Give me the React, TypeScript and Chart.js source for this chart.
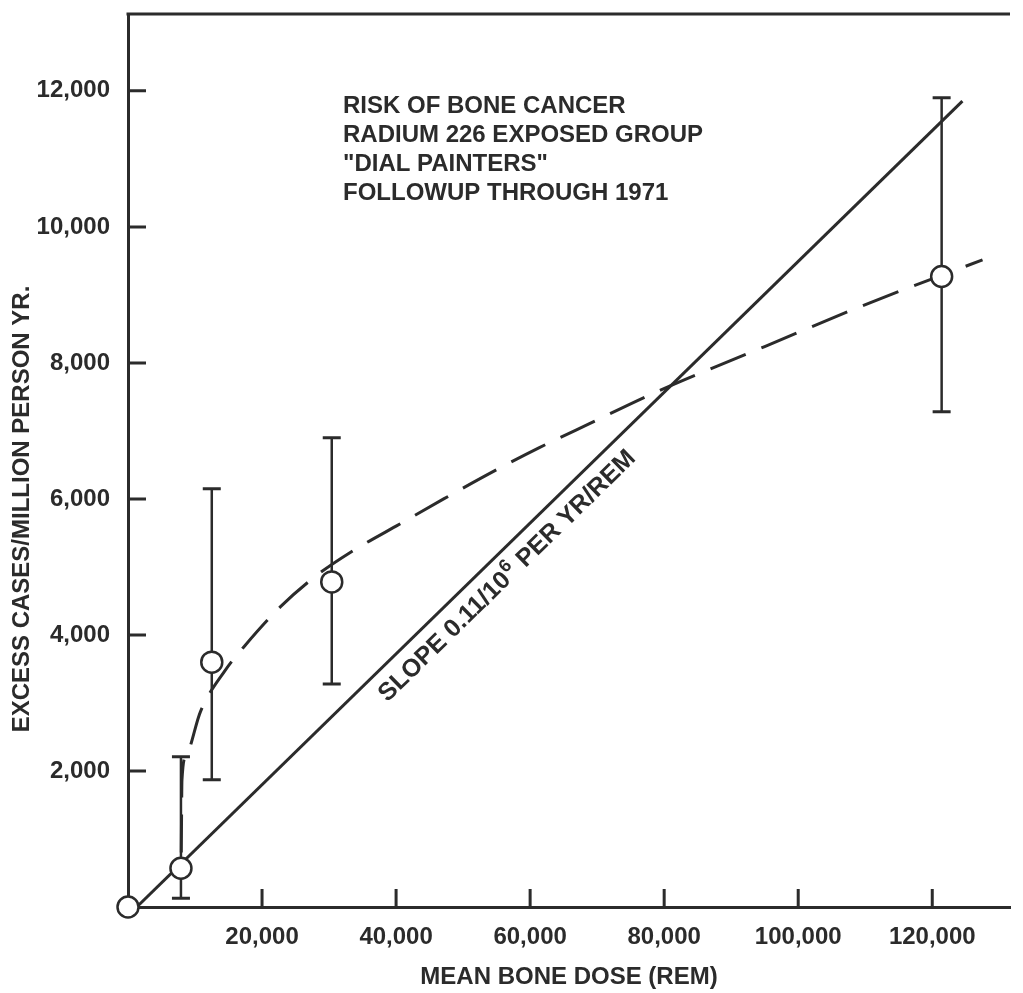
import React, { useEffect, useRef } from "react";
import { Chart, registerables } from "chart.js";

Chart.register(...registerables);

// ---- data ----
const doseX = [0, 7900, 12500, 30400, 121400];
const excessY = [0, 570, 3600, 4780, 9270];
const errLow = [null, 130, 1870, 3280, 7280];
const errHigh = [null, 2210, 6150, 6900, 11900];

const slopeLineX = [1300, 124500];
const slopeLineY = [0, 11850];

const curveX = [7950, 8050, 8700, 10800, 14500, 17500, 22800, 28200, 33100, 40000, 47100, 55200, 61300, 68700, 79000, 95000, 110600, 127500];
const curveY = [800, 1870, 2230, 2870, 3480, 3850, 4420, 4880, 5210, 5600, 6000, 6440, 6750, 7100, 7580, 8240, 8880, 9515];

const xTickValues = [20000, 40000, 60000, 80000, 100000, 120000];
const yTickValues = [2000, 4000, 6000, 8000, 10000, 12000];

const noteLines = [
  "RISK OF BONE CANCER",
  "RADIUM 226 EXPOSED GROUP",
  "\"DIAL PAINTERS\"",
  "FOLLOWUP THROUGH 1971",
];
const slopeTextA = "SLOPE 0.11/10";
const slopeTextSup = "6";
const slopeTextB = " PER YR/REM";
const slopeTextAtX = 35700;

const xTitle = "MEAN BONE DOSE (REM)";
const yTitle = "EXCESS CASES/MILLION PERSON YR.";

const INK = "#2b2b2b";
const FONT = "'Liberation Sans', Arial, sans-serif";

const fmt = (v: number) => v.toLocaleString("en-US");

const overlayPlugin = {
  id: "overlay",
  beforeDatasetsDraw(chart: any) {
    const { ctx } = chart;
    const xs = chart.scales.x;
    const ys = chart.scales.y;
    ctx.save();
    ctx.strokeStyle = INK;
    ctx.lineCap = "butt";
    for (let i = 0; i < doseX.length; i++) {
      const lo = errLow[i];
      const hi = errHigh[i];
      if (lo == null || hi == null) continue;
      const px = xs.getPixelForValue(doseX[i]);
      const pl = ys.getPixelForValue(lo);
      const ph = ys.getPixelForValue(hi);
      ctx.lineWidth = 2.5;
      ctx.beginPath();
      ctx.moveTo(px, pl);
      ctx.lineTo(px, ph);
      ctx.stroke();
      ctx.lineWidth = 3;
      ctx.beginPath();
      ctx.moveTo(px - 9, pl);
      ctx.lineTo(px + 9, pl);
      ctx.moveTo(px - 9, ph);
      ctx.lineTo(px + 9, ph);
      ctx.stroke();
    }
    ctx.restore();
  },
  afterDraw(chart: any) {
    const { ctx, chartArea } = chart;
    const xs = chart.scales.x;
    const ys = chart.scales.y;
    ctx.save();
    ctx.strokeStyle = INK;
    ctx.fillStyle = INK;
    // top border
    ctx.lineWidth = 3;
    ctx.beginPath();
    ctx.moveTo(chartArea.left - 1.5, chartArea.top);
    ctx.lineTo(chartArea.right, chartArea.top);
    ctx.stroke();
    // inward tick marks
    ctx.lineWidth = 3;
    ctx.beginPath();
    for (const v of yTickValues) {
      const py = ys.getPixelForValue(v);
      ctx.moveTo(chartArea.left, py);
      ctx.lineTo(chartArea.left + 18, py);
    }
    for (const v of xTickValues) {
      const px = xs.getPixelForValue(v);
      ctx.moveTo(px, chartArea.bottom);
      ctx.lineTo(px, chartArea.bottom - 18);
    }
    ctx.stroke();

    // annotation block
    ctx.font = `bold 24px ${FONT}`;
    ctx.textAlign = "left";
    ctx.textBaseline = "alphabetic";
    noteLines.forEach((t, i) => {
      ctx.fillText(t, 343, 113 + i * 29);
    });

    // slope label along solid line
    const x1 = xs.getPixelForValue(slopeLineX[0]);
    const y1 = ys.getPixelForValue(slopeLineY[0]);
    const x2 = xs.getPixelForValue(slopeLineX[1]);
    const y2 = ys.getPixelForValue(slopeLineY[1]);
    const ang = Math.atan2(y2 - y1, x2 - x1);
    const frac = (slopeTextAtX - slopeLineX[0]) / (slopeLineX[1] - slopeLineX[0]);
    const ax = xs.getPixelForValue(slopeTextAtX);
    const ay = ys.getPixelForValue(slopeLineY[0] + frac * (slopeLineY[1] - slopeLineY[0]));
    ctx.save();
    ctx.translate(ax, ay);
    ctx.rotate(ang);
    ctx.font = `bold 25px ${FONT}`;
    ctx.fillText(slopeTextA, 0, 29);
    const wa = ctx.measureText(slopeTextA).width;
    ctx.font = `bold 18px ${FONT}`;
    ctx.fillText(slopeTextSup, wa + 1, 19);
    const ws = ctx.measureText(slopeTextSup).width;
    ctx.font = `bold 25px ${FONT}`;
    ctx.fillText(slopeTextB, wa + ws + 2, 29);
    ctx.restore();

    // y axis title
    ctx.save();
    ctx.translate(22.5, 509);
    ctx.rotate(-Math.PI / 2);
    ctx.font = `bold 24px ${FONT}`;
    ctx.textAlign = "center";
    ctx.textBaseline = "middle";
    ctx.fillText(yTitle, 0, 0);
    ctx.restore();

    ctx.restore();
  },
};

export default function App() {
  const ref = useRef<HTMLCanvasElement | null>(null);
  useEffect(() => {
    if (!ref.current) return;
    const chart = new Chart(ref.current, {
      type: "scatter",
      data: {
        datasets: [
          {
            label: "observed",
            data: doseX.map((x, i) => ({ x, y: excessY[i] })),
            showLine: false,
            pointRadius: 10.5,
            pointHoverRadius: 10.5,
            pointBorderWidth: 2.5,
            pointBackgroundColor: "#ffffff",
            pointBorderColor: INK,
            clip: false,
          },
          {
            label: "linear",
            data: slopeLineX.map((x, i) => ({ x, y: slopeLineY[i] })),
            showLine: true,
            borderColor: INK,
            borderWidth: 3,
            pointRadius: 0,
          },
          {
            label: "fit",
            data: curveX.map((x, i) => ({ x, y: curveY[i] })),
            showLine: true,
            borderColor: INK,
            borderWidth: 3,
            borderDash: [38, 17],
            borderCapStyle: "butt",
            cubicInterpolationMode: "monotone",
            pointRadius: 0,
          },
        ],
      },
      options: {
        animation: false,
        responsive: false,
        devicePixelRatio: 1,
        layout: { padding: { top: 14, left: 0, right: 0, bottom: 0 } },
        plugins: { legend: { display: false }, tooltip: { enabled: false } },
        scales: {
          x: {
            type: "linear",
            min: 0,
            max: 131600,
            grid: { display: false },
            border: { display: true, color: INK, width: 3 },
            ticks: {
              color: INK,
              font: { family: FONT, size: 24, weight: "bold" },
              padding: 8,
              maxRotation: 0,
              autoSkip: false,
              callback: (v: any) => fmt(Number(v)),
            },
            afterBuildTicks: (s: any) => {
              s.ticks = xTickValues.map((v) => ({ value: v }));
            },
            afterFit: (s: any) => {
              s.height = 86;
              s.paddingLeft = 0;
              s.paddingRight = 0;
            },
            title: {
              display: true,
              text: xTitle,
              color: INK,
              font: { family: FONT, size: 24, weight: "bold" },
              padding: { top: 0, bottom: 1 },
            },
          },
          y: {
            type: "linear",
            min: 0,
            max: 13130,
            grid: { display: false },
            border: { display: true, color: INK, width: 3 },
            ticks: {
              color: INK,
              font: { family: FONT, size: 24, weight: "bold" },
              padding: 10,
              autoSkip: false,
              callback: (v: any) => fmt(Number(v)),
            },
            afterBuildTicks: (s: any) => {
              s.ticks = yTickValues.map((v) => ({ value: v }));
            },
            afterFit: (s: any) => {
              s.width = 128;
              s.paddingTop = 0;
              s.paddingBottom = 0;
            },
          },
        },
      },
      plugins: [overlayPlugin],
    } as any);
    return () => chart.destroy();
  }, []);
  return (
    <div style={{ position: "absolute", left: 0, top: 0, width: 1023, height: 993, background: "#fff" }}>
      <canvas ref={ref} width={1023} height={993} style={{ display: "block" }} />
    </div>
  );
}
